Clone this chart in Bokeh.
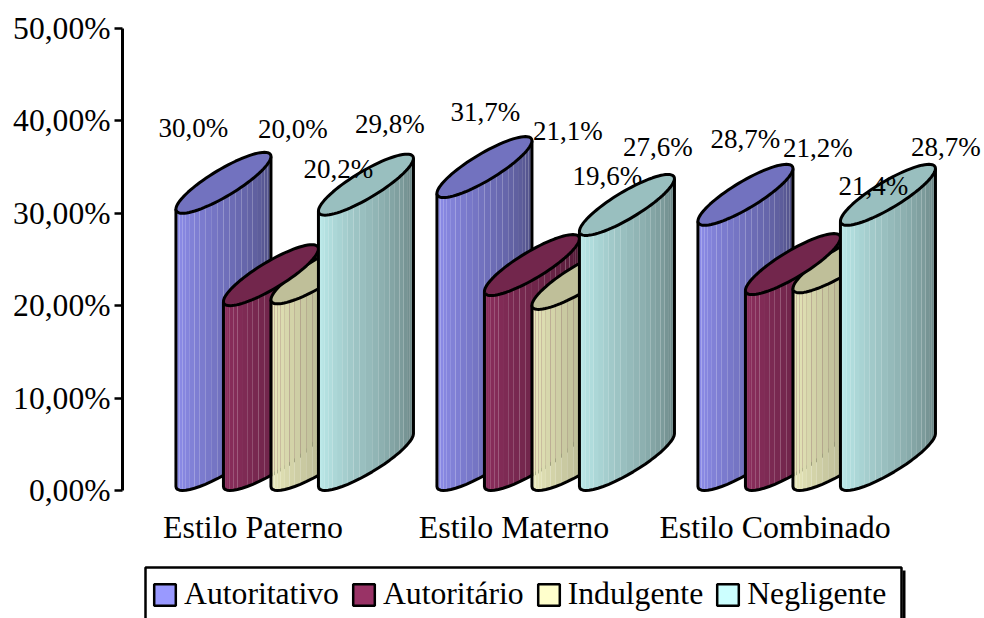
import math
from bokeh.embed import file_html
from bokeh.resources import INLINE
from bokeh.plotting import figure
from bokeh.models import (ColumnDataSource, FixedTicker, Legend, LegendItem, Range1d,
                          BoxAnnotation)
from bokeh.core.properties import value

categories = ["Estilo Paterno", "Estilo Materno", "Estilo Combinado"]
series_names = ["Autoritativo", "Autoritário", "Indulgente", "Negligente"]
autoritativo = [30.0, 31.7, 28.7]
autoritario = [20.0, 21.1, 21.2]
indulgente = [20.2, 19.6, 21.4]
negligente = [29.8, 27.6, 28.7]
series_values = [autoritativo, autoritario, indulgente, negligente]
series_colors = ["#9999FF", "#993366", "#FFFFCC", "#CCFFFF"]
y_ticks = [0, 10, 20, 30, 40, 50]
y_tick_labels = ["0,00%", "10,00%", "20,00%", "30,00%", "40,00%", "50,00%"]

# label nudges in pixels from the top of each cylinder (one row per category)
label_dx = [[-30, 22, 20, 24], [1, 36, 28, 31], [0, 25, 33, 58]]
label_dy = [[85, 177, 135, 91], [86, 165, 133, 88], [86, 147, 107, 78]]

FONT = "Liberation Serif"
W, H = 984, 618
LEFT, TOP = 122, 28
AXIS_BOTTOM = 490
FRAME_W = W - LEFT
PX_PER_GROUP = 261.0
X0 = -0.5
PX_X = 1.0 / PX_PER_GROUP
PX_Y = 50.0 / (AXIS_BOTTOM - TOP)

p = figure(width=W, height=H, output_backend="svg", toolbar_location=None,
           x_range=Range1d(X0, X0 + FRAME_W * PX_X),
           y_range=Range1d(-(H - AXIS_BOTTOM) * PX_Y, 50),
           min_border_left=LEFT, min_border_right=0, min_border_top=TOP, min_border_bottom=0,
           outline_line_color=None, background_fill_color="white", border_fill_color="white")
p.grid.visible = False

ax = p.yaxis[0]
ax.ticker = FixedTicker(ticks=y_ticks)
ax.bounds = (0, 50)
ax.major_label_overrides = {t: l for t, l in zip(y_ticks, y_tick_labels)}
ax.major_label_text_font = FONT
ax.major_label_text_font_size = "31.6px"
ax.major_label_text_color = "black"
ax.major_label_standoff = 4
ax.axis_line_width = 3
ax.axis_line_color = "black"
ax.major_tick_line_width = 2.5
ax.major_tick_line_color = "black"
ax.major_tick_in = 0
ax.major_tick_out = 8
ax.minor_tick_line_color = None

bx = p.xaxis[0]
bx.fixed_location = 0
bx.ticker = FixedTicker(ticks=list(range(len(categories))))
bx.major_label_overrides = {i: c for i, c in enumerate(categories)}
bx.major_label_text_font = FONT
bx.major_label_text_font_size = "31.9px"
bx.major_label_text_color = "black"
bx.major_label_standoff = 13
bx.axis_line_color = None
bx.major_tick_line_color = None
bx.minor_tick_line_color = None

# oblique cylinder geometry, in pixels
SPACING = 47.5
SHIFT = 0.7
A, B, D = 24.0, 41.0, 30.5
T0 = math.atan2(-B, -A)
N = 24


def shade(hex_color, f):
    r, g, b = (int(hex_color[i:i + 2], 16) for i in (1, 3, 5))
    return "#%02x%02x%02x" % (int(r * f), int(g * f), int(b * f))


def ring_point(cx, cy, t):
    return (cx + (A * math.cos(t) + B * math.sin(t)) * PX_X,
            cy + (D + D * math.sin(t)) * PX_Y)


def center_x(g, s):
    return g + ((s - 1.5) * SPACING + B + SHIFT) * PX_X


def side(g, s):
    cx = center_x(g, s)
    v = series_values[s][g]
    ts = [T0 + math.pi * i / N for i in range(N + 1)]
    low = [ring_point(cx, 0, t) for t in ts]
    high = [ring_point(cx, v, t) for t in ts]
    ox = [high[0][0]] + [q[0] for q in low] + [high[-1][0]]
    oy = [high[0][1]] + [q[1] for q in low] + [high[-1][1]]
    if s != 2:  # the pale series lets what is behind it show through its seams
        p.patch(ox + [q[0] for q in reversed(high)], oy + [q[1] for q in reversed(high)],
                fill_color="white", line_color=None)
    xs, ys, cols = [], [], []
    for i in range(N):
        xs.append([low[i][0], low[i + 1][0], high[i + 1][0], high[i][0]])
        ys.append([low[i][1], low[i + 1][1], high[i + 1][1], high[i][1]])
        cols.append(shade(series_colors[s], 0.94 - 0.44 * (i / (N - 1)) ** 1.15))
    p.patches(xs, ys, fill_color=cols, line_color=None)
    p.line(ox, oy, line_color="black", line_width=3, line_join="round")


def top(g, s):
    cx = center_x(g, s)
    v = series_values[s][g]
    pts = [ring_point(cx, v, 2 * math.pi * i / 80) for i in range(80)]
    p.patch([q[0] for q in pts], [q[1] for q in pts], fill_color=shade(series_colors[s], 0.75),
            line_color="black", line_width=3, line_join="round")


for g in range(len(categories)):
    side(g, 0)
    top(g, 0)
    side(g, 1)
    side(g, 2)
    top(g, 2)
    top(g, 1)
    side(g, 3)
    top(g, 3)

lx, ly, lt, ldx, ldy = [], [], [], [], []
for g in range(len(categories)):
    for s in range(len(series_names)):
        v = series_values[s][g]
        lx.append(center_x(g, s))
        ly.append(v)
        lt.append(("%.1f%%" % v).replace(".", ","))
        ldx.append(label_dx[g][s])
        ldy.append(-label_dy[g][s])
p.text(x="x", y="y", text="t", x_offset="dx", y_offset="dy",
       source=ColumnDataSource(dict(x=lx, y=ly, t=lt, dx=ldx, dy=ldy)),
       text_font=value(FONT), text_font_size=value("27px"), text_color="black",
       text_align="center", text_baseline="middle")

NAN = float("nan")
items = []
for name, col in zip(series_names, series_colors):
    r = p.quad(left=[NAN], right=[NAN], top=[NAN], bottom=[NAN], fill_color=col,
               line_color="black", line_width=2.5)
    items.append(LegendItem(label=name, renderers=[r]))
legend = Legend(items=items, orientation="horizontal", location=(29, 6), margin=0, padding=8,
                spacing=11, glyph_width=27, glyph_height=27, label_standoff=6,
                label_text_font=FONT, label_text_font_size="31.7px", label_text_color="black",
                border_line_color=None, background_fill_color="white",
                background_fill_alpha=1)
p.add_layout(legend, "center")
p.add_layout(BoxAnnotation(left=145, right=901, top=567, bottom=630, left_units="canvas",
                           right_units="canvas", top_units="canvas", bottom_units="canvas",
                           fill_alpha=0, line_color="black", line_alpha=1, line_width=2.5))
p.add_layout(BoxAnnotation(left=902, right=905, top=570, bottom=618, left_units="canvas",
                           right_units="canvas", top_units="canvas", bottom_units="canvas",
                           fill_color="black", fill_alpha=1, line_color=None))

open("out.html", "w").write(file_html(p, INLINE))
